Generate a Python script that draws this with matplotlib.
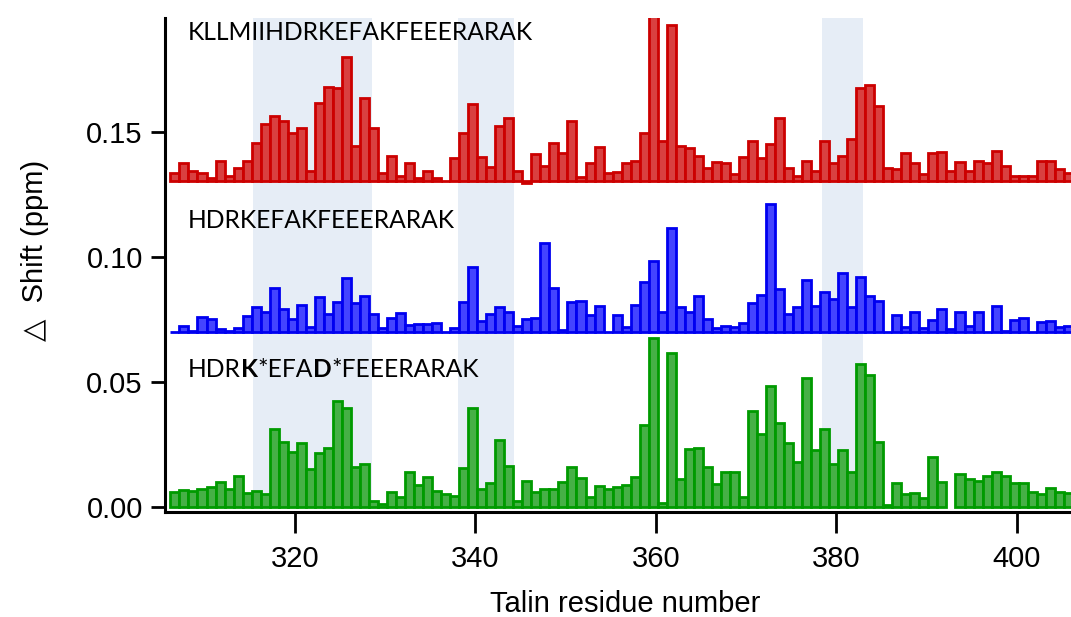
import matplotlib
matplotlib.use("Agg")
import matplotlib.pyplot as plt
import numpy as np

# Talin residues (one bar per residue)
residues = np.arange(307, 407)

# chemical shift changes (ppm) for the three peptides
shift_long = [
    0.003, 0.007, 0.004, 0.003, 0.001, 0.008, 0.002, 0.005, 0.008, 0.015,
    0.0225, 0.026, 0.024, 0.019, 0.021, 0.004, 0.031, 0.0375, 0.037, 0.0495,
    0.014, 0.033, 0.021, 0.003, 0.010, 0.002, 0.007, 0.001, 0.004, 0.001,
    0.0, 0.009, 0.019, 0.0306, 0.0096, 0.0053, 0.022, 0.025, 0.004, -0.001,
    0.0106, 0.006, 0.015, 0.011, 0.024, 0.0016, 0.007, 0.0135, 0.003, 0.0033,
    0.007, 0.008, 0.019, 0.066, 0.016, 0.0624, 0.014, 0.013, 0.010, 0.005,
    0.0076, 0.007, 0.0025, 0.0096, 0.016, 0.009, 0.0145, 0.025, 0.005, 0.002,
    0.008, 0.004, 0.016, 0.007, 0.010, 0.0166, 0.037, 0.0384, 0.030, 0.005,
    0.0046, 0.011, 0.007, 0.0025, 0.011, 0.0115, 0.004, 0.0076, 0.004, 0.008,
    0.007, 0.012, 0.006, 0.002, 0.002, 0.002, 0.008, 0.008, 0.0046, 0.003,
]
shift_short = [
    0.0, 0.0023, 0.0004, 0.006, 0.005, 0.001, 0.0004, 0.0013, 0.0062, 0.010,
    0.0077, 0.0175, 0.009, 0.005, 0.0106, 0.002, 0.014, 0.007, 0.012, 0.0213,
    0.0113, 0.0142, 0.007, 0.0013, 0.0053, 0.0076, 0.0027, 0.003, 0.003, 0.0033,
    0.0, 0.0013, 0.012, 0.026, 0.0043, 0.007, 0.010, 0.0077, 0.0024, 0.005,
    0.0053, 0.0353, 0.0175, 0.0007, 0.0117, 0.0124, 0.0066, 0.0104, 0.0, 0.0066,
    0.002, 0.0106, 0.020, 0.0283, 0.008, 0.0415, 0.010, 0.0077, 0.0142, 0.005,
    0.0016, 0.0024, 0.002, 0.0033, 0.0113, 0.0146, 0.0512, 0.017, 0.007, 0.0097,
    0.0206, 0.0104, 0.0157, 0.013, 0.0235, 0.0097, 0.022, 0.0142, 0.0122, 0.0,
    0.0066, 0.0017, 0.008, 0.0013, 0.0047, 0.009, 0.001, 0.0078, 0.0023, 0.0077,
    0.0, 0.0102, 0.0004, 0.0047, 0.0056, 0.0, 0.0037, 0.0044, 0.0017, 0.0023,
]
shift_mutant = [
    0.0061, 0.0070, 0.0067, 0.0073, 0.0080, 0.0100, 0.0074, 0.0127, 0.0057, 0.0067,
    0.0054, 0.0312, 0.0263, 0.0220, 0.0259, 0.0154, 0.0216, 0.0236, 0.0426, 0.0398,
    0.0160, 0.0174, 0.0026, 0.0013, 0.0063, 0.0041, 0.0141, 0.0090, 0.0123, 0.0066,
    0.0054, 0.0047, 0.0156, 0.0396, 0.0074, 0.0097, 0.0269, 0.0167, 0.0027, 0.0107,
    0.0063, 0.0073, 0.0073, 0.0103, 0.0160, 0.0117, 0.0041, 0.0086, 0.0074, 0.0080,
    0.0090, 0.0123, 0.0329, 0.0675, 0.0017, 0.0618, 0.0112, 0.0232, 0.0236, 0.0160,
    0.0094, 0.0143, 0.0143, 0.0043, 0.0387, 0.0293, 0.0485, 0.0339, 0.0259, 0.0183,
    0.0516, 0.0230, 0.0312, 0.0172, 0.0230, 0.0141, 0.0573, 0.0529, 0.0263, 0.0010,
    0.0099, 0.0053, 0.0059, 0.0037, 0.0203, 0.0103, np.nan, 0.0134, 0.0112, 0.0107,
    0.0126, 0.0141, 0.0127, 0.0099, 0.0099, 0.0061, 0.0054, 0.0077, 0.0063, 0.0057,
]

# vertical offsets of the stacked traces
offset_long = 0.1305
offset_short = 0.0702

# highlighted residue ranges
bands = [(315.4, 328.5), (338.1, 344.25), (378.4, 383.0)]

fig = plt.figure(figsize=(10.71, 6.17), dpi=100)
ax = fig.add_axes([165 / 1071, 1 - 511.7 / 617, 1 - 165 / 1071, (511.7 - 18) / 617])

ymin, ymax = -0.0017, 0.1955
for x0, x1 in bands:
    ax.fill_between([x0, x1], 0, ymax, color="#e6edf6", lw=0, zorder=0)

xpos = residues - 0.3
series = [
    (shift_long, offset_long, "#d94040", "#cc0000"),
    (shift_short, offset_short, "#4444ff", "#0000f0"),
    (shift_mutant, 0.0, "#46b046", "#009a00"),
]
for vals, off, fc, ec in series:
    vals = np.asarray(vals, dtype=float)
    ok = np.isfinite(vals)
    ax.bar(xpos[ok], vals[ok], width=1.0, bottom=off, color=fc, edgecolor=ec,
           linewidth=2.0, zorder=2)

ax.set_xlim(305.6, 406.0)
ax.set_ylim(ymin, ymax)
ax.set_xticks([320, 340, 360, 380, 400])
ax.set_yticks([0.0, 0.05, 0.10, 0.15])
ax.set_yticklabels(["0.00", "0.05", "0.10", "0.15"])

for side in ["top", "right"]:
    ax.spines[side].set_visible(False)
for side in ["left", "bottom"]:
    ax.spines[side].set_linewidth(2.2)
ax.tick_params(axis="x", length=15, width=2.0, pad=9, labelsize=21)
ax.tick_params(axis="y", length=10, width=2.0, pad=6, labelsize=21)
for lab in ax.get_xticklabels() + ax.get_yticklabels():
    lab.set_family(["Liberation Sans", "DejaVu Sans"])

fig.text(625 / 1071, 1 - 604 / 617, "Talin residue number", ha="center", va="center",
         fontsize=21, family=["Liberation Sans", "DejaVu Sans"])
fig.text(35 / 1071, 1 - 250 / 617, "\u25b3  Shift (ppm)", ha="center", va="center",
         rotation=90, fontsize=21, family=["Liberation Sans", "DejaVu Sans"])

# peptide sequence labels
seq_font = dict(fontsize=17.7, family=["Lato", "DejaVu Sans"])
ax.text(308.15, 0.1869, "KLLMIIHDRKEFAKFEEERARAK", va="baseline", **seq_font)
ax.text(308.15, 0.1115, "HDRKEFAKFEEERARAK", va="baseline", **seq_font)

pieces = [("HDR", "normal"), ("K", "bold"), ("*EFA", "normal"), ("D", "bold"),
          ("*FEEERARAK", "normal")]
prev = ax.text(308.15, 0.0522, pieces[0][0], va="baseline", **seq_font)
for txt, wt in pieces[1:]:
    prev = ax.annotate(txt, xy=(1, 0), xycoords=prev, va="bottom", ha="left",
                       fontweight=wt, **seq_font)

fig.savefig("out.png", dpi=100)
